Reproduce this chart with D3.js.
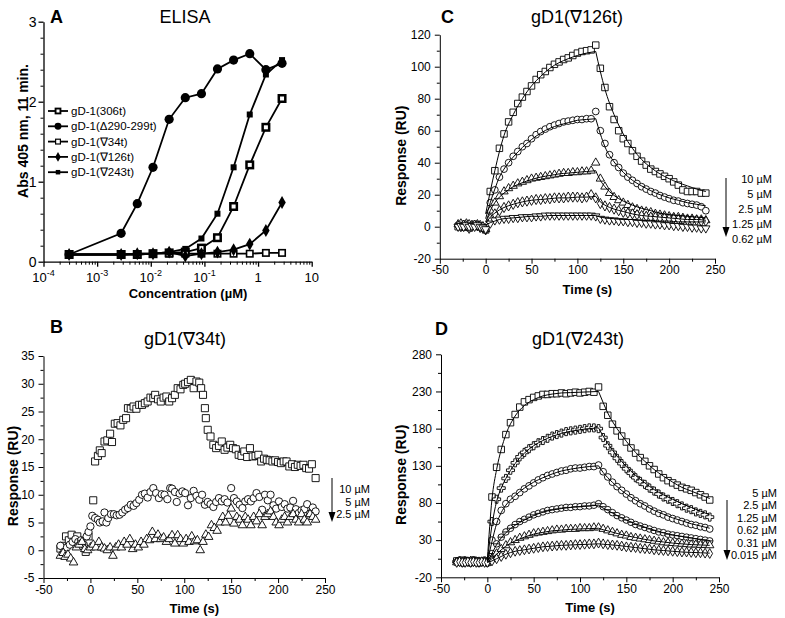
<!DOCTYPE html>
<html>
<head>
<meta charset="utf-8">
<script src="https://cdn.jsdelivr.net/npm/d3@7"></script>
<style>
body { margin: 0; background: #fff; }
svg { font-family: "Liberation Sans", Arial, Helvetica, sans-serif; }
</style>
</head>
<body>
<div id="chart"></div>
<script>
// ---------------- data: panel A (ELISA) ----------------
var elisaConc = [0.0003, 0.0028, 0.0056, 0.011, 0.022, 0.044, 0.088, 0.175, 0.35, 0.7, 1.4, 2.8];
var elisa306 = [0.09, 0.09, 0.09, 0.1, 0.11, 0.12, 0.17, 0.3, 0.69, 1.21, 1.68, 2.04];
var elisaD290 = [0.09, 0.355, 0.725, 1.18, 1.78, 2.05, 2.1, 2.41, 2.52, 2.6, 2.4, 2.48];
var elisa34 = [0.09, 0.09, 0.09, 0.1, 0.1, 0.1, 0.1, 0.1, 0.1, 0.1, 0.11, 0.11];
var elisa126 = [0.09, 0.09, 0.1, 0.1, 0.12, 0.07, 0.1, 0.12, 0.15, 0.22, 0.39, 0.74];
var elisa243 = [0.09, 0.09, 0.1, 0.1, 0.12, 0.16, 0.29, 0.6, 1.18, 1.84, 2.34, 2.52];
var elisaNames = ["gD-1(306t)", "gD-1(\u0394290-299t)", "gD-1(\u220734t)", "gD-1(\u2207126t)", "gD-1(\u2207243t)"];
var decA = [1e-4, 1e-3, 1e-2, 1e-1, 1, 10];
var decABase = ["10", "10", "10", "10", "1", "10"];
var decAExp = ["-4", "-3", "-2", "-1", "", ""];
var ticksAy = [0, 1, 2, 3];

// ---------------- data: panel B gD1(V34t), [time, RU] ----------------
var b10 = [[-32,0.3],[-29,0.8],[-26,2.5],[-23,1.8],[-20,2.8],[-17,1.5],[-14,2.5],[-11,1],[-8,0.8],[-5,-0.3],[-2,2.5],[3,9],[5,16],[8,17],[10,18],[12,17.5],[15,19.6],[18,19.8],[21,21],[23,19.5],[26,22.8],[29,22.9],[32,22.5],[35,23.5],[38,23.8],[40,25.6],[43,25.5],[46,25.9],[49,25.5],[52,26.2],[55,26.2],[58,26.5],[61,26.8],[64,27.5],[67,27.4],[69,28],[72,27.2],[75,26.8],[78,27.5],[81,27.7],[84,26.8],[87,27.4],[90,28],[93,29.2],[96,29],[99,29.8],[101,30],[104,30.3],[107,30.7],[110,29.2],[113,30.4],[116,30.2],[118,29.2],[120,28],[122,25.6],[123,23.8],[125,21.7],[128,20.5],[131,19],[134,18.4],[137,18.8],[140,19.6],[143,18.1],[146,18.5],[149,19],[152,18.4],[155,18.2],[158,17.2],[161,17],[164,17.8],[167,16.8],[170,18.4],[173,16.9],[176,17],[179,17.2],[182,16],[185,16.5],[188,16.3],[191,16.2],[194,16],[197,16.2],[200,15.9],[203,15.7],[206,16],[209,16],[212,15.1],[215,15.5],[218,15],[221,15.4],[224,15.2],[227,15.4],[230,14.8],[233,14.7],[236,15.5],[240,13]];
var b5 = [[-32,0.8],[-28,-0.3],[-25,0.5],[-22,1],[-19,1.5],[-16,2],[-13,1.5],[-10,1.8],[-7,1],[-4,2.5],[-2,3.3],[0,4.3],[2,6.2],[5,5.8],[8,5.5],[10,5],[13,5.2],[15,6.8],[17,5],[19,5.8],[22,6.5],[25,6.5],[28,6.3],[31,6.4],[34,6.8],[37,7.3],[40,7.6],[43,8.2],[46,8],[49,8.5],[52,9.1],[55,10],[58,10.2],[61,9.5],[64,10.5],[67,11.2],[70,10.3],[73,9.4],[76,10.1],[79,10],[82,9.2],[85,11.2],[87,11.1],[90,10.5],[92,8.7],[95,10.2],[98,10.6],[101,10.3],[104,8.1],[107,9.4],[110,10.7],[113,9.8],[116,9.1],[119,10],[122,8.2],[125,8.7],[128,8.3],[131,7.8],[134,8.7],[137,9.4],[140,8.8],[143,9.2],[146,8.6],[150,11.2],[153,9.4],[156,8.8],[159,8.2],[162,7.6],[165,8.8],[168,9.2],[171,8.8],[174,9.4],[177,10.3],[180,9.6],[183,7.3],[186,10],[189,9],[192,10],[195,8.1],[198,7.5],[201,8.8],[204,7.8],[207,8.3],[210,7.5],[213,7.7],[216,8.9],[219,7.4],[222,6.7],[225,7.2],[228,7.4],[231,8.3],[234,6.6],[237,7.7],[240,7]];
var b25 = [[-32,-1],[-29,-0.5],[-27,-1.2],[-24,-0.8],[-21,-1.5],[-18,-2.2],[-15,0.5],[-12,1],[-9,1.5],[-6,0.2],[-3,0],[0,0.5],[3,1],[6,0.5],[9,1.5],[12,0.5],[15,0.3],[18,0],[21,0.5],[24,-1],[27,0.5],[30,1],[33,0.5],[36,1.5],[39,1],[42,2],[45,0.2],[48,1],[51,0.5],[54,1.5],[57,1],[60,2],[63,1.8],[66,3.3],[69,2],[72,2.8],[75,2],[78,2.3],[81,1.5],[84,2],[87,2.7],[90,1.2],[93,2.7],[96,2],[99,1.2],[102,2],[105,1.5],[108,2.5],[111,1.6],[114,1.8],[117,0],[120,1.5],[123,2.8],[126,2.4],[129,4.5],[132,4],[135,3.5],[138,5],[141,6],[144,5],[147,6.2],[150,7.5],[153,4.8],[156,6],[159,5.5],[162,4.5],[165,6],[168,5.5],[171,4.5],[174,6],[177,5.2],[180,6.5],[183,4.5],[186,6],[189,6.5],[192,7],[195,6],[198,5],[201,4.5],[204,5.5],[207,6],[210,5],[213,6],[216,6.5],[219,5.5],[222,5],[225,6.5],[228,5.5],[231,5],[234,6.5],[237,6],[240,5.5]];
var bLegend = ["10 \u00b5M", "5 \u00b5M", "2.5 \u00b5M"];
var ticksBy = [-5, 0, 5, 10, 15, 20, 25, 30, 35];

// ---------------- data: panel C gD1(V126t) ----------------
var timesC = [-30,-27,-24,-21,-18,-15,-12,-9,-6,-3,0,5,10,15,20,25,30,35,40,45,50,55,60,65,70,75,80,85,90,95,100,105,110,115,120,125,130,135,140,145,150,155,160,165,170,175,180,185,190,195,200,205,210,215,220,225,230,235,240];
var c10 = [0,1,1.5,1,0.5,1,1.5,1,0,-0.5,-2, 22,35,49,58,65.5,71.5,77,81,84.5,88,92,95,97,99.5,101.5,103,104.5,105.5,107,108.5,109.5,110,110.5,113.5, 99,87,75,67,60,55,52,47.5,44,41,38.5,36,34.5,33,31.5,30,28,26,23,22,22,22,21,21];
var c5 = [1,0.5,-0.5,0,-1,0,0.5,1,0,-1,-2, 15,23,31,36,40,44,47,50,52,55,57.5,59.5,61,62.5,63.5,64.5,65.5,66,66.5,67,67,67.5,67.5,72, 60,52,45,40,37,33.5,31,29,27,25,23.5,22,21,19.5,18.5,17.5,16.5,16,15,14.5,14,13.5,12.5,10];
var c25 = [1.5,2,1,2,1.5,1,0.5,1.5,1,0,-1.5, 10,15,19,22,24,25.5,27,28,29,30,30.5,31,31.5,32,32.5,33,33.5,33.5,34,34,34.5,34.5,35,40, 30,25,21,18.5,16.5,15,13.5,12,11,10,9.5,9,8,7.5,7,6.5,6,6,5.5,5,5,4.5,4.5,4];
var c125 = [0.5,0,1,0.5,-1,0,1,0.5,-0.5,0,-2, 5,8,10,12,13,14,15,15.5,16,16.5,17,17,17.5,17.5,18,18,18,18.5,18.5,18.5,18,18.5,20,18, 14.5,13,12,11,10,9,8.5,8,7.5,7,6.5,6,6,5.5,5.5,5,5,4.5,4.5,4,4,4,3.5,3.5];
var c062 = [0,0.5,0,1,0,0.5,0,1,0,-0.5,-1.5, 2,4,4.5,5,5,5.5,5.5,6,6,6,6.5,6.5,7,7,7,7,7,7,7,7,7,7,7,6.5, 5,4.5,4,4,3.5,3.5,3,3,2.5,2.5,2,2,1.5,1.5,1,1,0.5,0.5,0,0,-0.5,-0.5,-1,-1];
var fitTimes = [0,5,10,15,20,30,40,50,60,70,80,90,100,110,120,125,130,140,150,160,170,180,190,200,210,220,230,240];
var fitC10 = [8,22,35,47,57,70,80,88,94,99,102.5,105,107,108.5,109.5, 97,86,70,58,49,42,37,33,30,27.5,25.5,23.5,22];
var fitC5 = [5,15,23.5,31,36,43.5,49.5,54.5,58.5,61.5,63.5,65,66.5,67,67.5, 58,50,40.5,34,29,25.5,22.5,20,18,16.5,15,14,13];
var fitC25 = [3,10,15,18.5,21,25,27.5,29.5,31,32,33,33.5,34,34.5,35, 29,25,19.5,16,13.5,11.5,10,8.5,7.5,7,6.5,6,5.5];
var fitC125 = [2,6,8.5,10.5,12,14,15.5,16.5,17,17.5,18,18,18.5,18.5,19, 15.5,13.5,11,9.5,8,7,6.5,6,5.5,5,4.5,4.5,4];
var fitC062 = [1,2.5,3.5,4.5,5,5.5,6,6.5,6.5,7,7,7,7,7,7, 6,5.5,5,4.5,4.5,4,4,3.5,3.5,3,3,3,3];
var cLegend = ["10 \u00b5M", "5 \u00b5M", "2.5 \u00b5M", "1.25 \u00b5M", "0.62 \u00b5M"];
var ticksCy = [-20, 0, 20, 40, 60, 80, 100, 120];

// ---------------- data: panel D gD1(V243t) ----------------
var timesD = [-33,-30,-27,-24,-21,-18,-15,-12,-9,-6,-3,0,5,10,15,20,25,30,35,40,45,50,55,60,65,70,75,80,85,90,95,100,105,110,115,120,125,130,135,140,145,150,155,160,165,170,175,180,185,190,195,200,205,210,215,220,225,230,235,240];
var d5 = [2,1,3,0,2,1,3,2,0,1,2,0, 88,128,152,172,188,199,209,216,219,222,224,226,226,227,227,228,227,228,229,228,229,230,229,236, 210,198,186,177,170,162,154,147,141,136,130,125,119,114,110,107,104,101,99,97,94,91,88,84];
var d25 = [1,2,0,2,1,0,2,1,0,1,2,0, 55,85,100,113,124,134,142,148,153,157,161,164,167,170,172,174,176,177,178,179,180,181,181,180, 168,157,148,140,133,126,120,114,109,105,100,96,92,88,85,82,79,76,73,71,68,66,64,61];
var d125 = [0,1,2,0,1,2,0,1,0,1,0,0, 30,55,70,79,85,89,94,99,103,107,111,114,117,119,121,123,124,126,127,127,128,129,129,131, 122,115,108,102,97,92,87,83,79,76,72,69,66,64,61,59,57,55,53,51,50,48,47,45];
var d062 = [0,1,0,2,1,0,1,2,0,1,0,0, 12,25,34,41,46,51,55,58,61,64,66,68,70,71,72,73,74,74,75,75,76,76,77,79, 75,71,67,63,60,57,54,51,49,47,45,43,41,40,38,37,36,35,34,33,32,31,30,29];
var d031 = [0,1,0,1,0,2,1,0,1,0,1,0, 5,12,18,23,27,30,33,35,37,39,40,41,42,43,44,44,45,45,45,46,46,46,47,47, 45,43,41,39,37,36,34,33,32,31,30,29,28,27,26.5,26,25.5,25,24.5,24,24,23.5,23.5,23];
var d0015 = [0,1,0,0,1,0,1,0,0,1,0,0, 2,5,8,11,13,15,16,17,18,19,20,21,21.5,22,22.5,23,23,23.5,24,24,24.5,25,25,26, 25,24,23.5,23,22,21,20.5,20,19,18.5,18,17,16.5,16,15.5,15,14.5,14,14,13.5,13,13,12.5,12];
var fitD5 = [3,85,125,152,172,197,211,219,224,226.5,228,228.5,229,229.5,230, 215,201,180,163,148,136,125,116,108,101,96,91,86];
var fitD25 = [2,50,82,100,113,133,147,157,164,169.5,173.5,176.5,178.5,180,181, 170,160,143,129,117,107,98,91,85,79,74,69,64];
var fitD125 = [1,28,52,67,77,90,100,108,114,119,123,125.5,127.5,129,130, 121,114,102,92,84,77,70,65,60,56,52,49,46];
var fitD062 = [1,12,24,33,40,50,57,63,67.5,70.5,72.5,74,75,76,77, 73,70,63,57,52,47.5,43.5,40,37,35,33,31,29.5];
var fitD031 = [0,5,11,17,22,29,34,38,40.5,42.5,43.5,44.5,45,45.5,46, 44,42.5,39,36,33.5,31,29,27.5,26,25,24,23.5,23];
var fitD0015 = [0,2,5,8,11,15,17,19,21,22,23,23.5,24,24.5,25, 24.5,24,23,21.5,20,18.5,17,16,15,14,13.5,13,12.5];
var dLegend = ["5 \u00b5M", "2.5 \u00b5M", "1.25 \u00b5M", "0.62 \u00b5M", "0.31 \u00b5M", "0.015 \u00b5M"];
var ticksDy = [-20, 30, 80, 130, 180, 230, 280];

var timeTicks = [-50, 0, 50, 100, 150, 200, 250];
var timeMinor = [-25, 25, 75, 125, 175, 225];

// ---------------- drawing ----------------
var width = 785, height = 618;
var svg = d3.select("#chart").append("svg")
    .attr("width", width)
    .attr("height", height);
svg.append("rect").attr("width", width).attr("height", height).attr("fill", "#fff");

function styleAxis(a, size, sw) {
    a.attr("font-family", null).attr("font-size", size);
    a.select(".domain").attr("stroke-width", sw);
    a.selectAll(".tick line").attr("stroke-width", sw);
}

function label(g, txt, x, y, opts) {
    opts = opts || {};
    var t = g.append("text")
        .attr("x", x).attr("y", y)
        .attr("text-anchor", opts.anchor || "start")
        .attr("font-size", opts.size || 12)
        .attr("font-weight", opts.bold ? "bold" : null)
        .text(txt);
    if (opts.rotate) t.attr("x", 0).attr("y", 0).attr("transform", "translate(" + x + "," + y + ") rotate(-90)");
    return t;
}

// ===== panel A =====
var xA = d3.scaleLog().domain([1e-4, 10]).range([43.5, 311.7]);
var yA = d3.scaleLinear().domain([0, 3]).range([261.7, 21.7]);
var gA = svg.append("g");

var minorAx = [];
decA.slice(0, 5).forEach(function(d) { [2,3,4,5,6,7,8,9].forEach(function(k) { minorAx.push(d * k); }); });
var minorAy = d3.range(0, 3.01, 0.2).filter(function(v) { return Math.abs(v - Math.round(v)) > 0.01; });

var axAx = gA.append("g").attr("transform", "translate(0," + yA(0) + ")")
    .call(d3.axisBottom(xA).tickValues(decA).tickSize(5).tickSizeOuter(0).tickFormat(""));
styleAxis(axAx, 13, 1.3);
gA.append("g").attr("transform", "translate(0," + yA(0) + ")")
    .call(d3.axisBottom(xA).tickValues(minorAx).tickSize(3).tickFormat(""))
    .call(function(a) { a.select(".domain").remove(); a.selectAll("line").attr("stroke-width", 1); });
var axAy = gA.append("g").attr("transform", "translate(" + xA.range()[0] + ",0)")
    .call(d3.axisLeft(yA).tickValues(ticksAy).tickSize(5).tickSizeOuter(0).tickPadding(2).tickFormat(d3.format("d")));
styleAxis(axAy, 14, 1.3);
gA.append("g").attr("transform", "translate(" + xA.range()[0] + ",0)")
    .call(d3.axisLeft(yA).tickValues(minorAy).tickSize(3).tickFormat(""))
    .call(function(a) { a.select(".domain").remove(); });

decA.forEach(function(d, i) {
    var t = gA.append("text").attr("x", xA(d)).attr("y", 282)
        .attr("text-anchor", "middle").attr("font-size", 13).text(decABase[i]);
    if (decAExp[i]) t.append("tspan").attr("dy", -6).attr("font-size", 9).text(decAExp[i]);
});

label(gA, "A", 50, 23, {size: 18, bold: true});
label(gA, "ELISA", 185, 23, {size: 18, anchor: "middle"});
label(gA, "Concentration (\u00b5M)", 188, 298, {size: 13, bold: true, anchor: "middle"});
label(gA, "Abs 405 nm, 11 min.", 28, 131, {size: 14, bold: true, anchor: "middle", rotate: true});

function markA(g, kind) {
    if (kind === "boxsq") {
        g.append("rect").attr("x", -4.5).attr("y", -4.5).attr("width", 9).attr("height", 9).attr("fill", "#000");
        g.append("rect").attr("x", -2).attr("y", -2).attr("width", 4).attr("height", 4).attr("fill", "#fff");
    } else if (kind === "dot") {
        g.append("circle").attr("r", 4.6).attr("fill", "#000");
    } else if (kind === "opensq") {
        g.append("rect").attr("x", -3.2).attr("y", -3.2).attr("width", 6.4).attr("height", 6.4)
            .attr("fill", "#fff").attr("stroke", "#000").attr("stroke-width", 1.6);
    } else if (kind === "diam") {
        g.append("path").attr("d", d3.symbol().type(d3.symbolDiamond).size(48)).attr("fill", "#000");
    } else {
        g.append("rect").attr("x", -3).attr("y", -3).attr("width", 6).attr("height", 6).attr("fill", "#000");
    }
}

var seriesA = [
    {vals: elisa306, kind: "boxsq"},
    {vals: elisaD290, kind: "dot"},
    {vals: elisa34, kind: "opensq"},
    {vals: elisa126, kind: "diam"},
    {vals: elisa243, kind: "fsq"}
];
var lineA = d3.line().x(function(d) { return xA(d[0]); }).y(function(d) { return yA(d[1]); });
seriesA.forEach(function(s) {
    var pts = d3.zip(elisaConc, s.vals);
    gA.append("path").datum(pts).attr("d", lineA)
        .attr("fill", "none").attr("stroke", "#000").attr("stroke-width", 1.8);
    gA.append("g").selectAll("g").data(pts).enter().append("g")
        .attr("transform", function(d) { return "translate(" + xA(d[0]) + "," + yA(d[1]) + ")"; })
        .each(function() { markA(d3.select(this), s.kind); });
});

// legend A
var legA = gA.append("g");
seriesA.forEach(function(s, i) {
    var ly = 111 + i * 15.3;
    legA.append("line").attr("x1", 48).attr("x2", 68).attr("y1", ly).attr("y2", ly)
        .attr("stroke", "#000").attr("stroke-width", 1.8);
    markA(legA.append("g").attr("transform", "translate(58," + ly + ") scale(0.75)"), s.kind);
    legA.append("text").attr("x", 71).attr("y", ly + 4).attr("font-size", 11.5).text(elisaNames[i]);
});

// ===== SPR panels =====
var symbolTheta = {
    draw: function(ctx, size) {
        var r = Math.sqrt(size / Math.PI);
        ctx.moveTo(r, 0);
        ctx.arc(0, 0, r, 0, 2 * Math.PI);
        ctx.moveTo(-r, 0);
        ctx.lineTo(r, 0);
    }
};

function sprPanel(p) {
    var x = d3.scaleLinear().domain([-50, 250]).range(p.xr);
    var y = d3.scaleLinear().domain(p.yd).range(p.yr);
    var g = svg.append("g");
    var y0 = p.yr[0], x0 = p.xr[0];

    var ax = g.append("g").attr("transform", "translate(0," + y0 + ")")
        .call(d3.axisBottom(x).tickValues(timeTicks).tickSize(5).tickSizeOuter(0).tickPadding(2)
            .tickFormat(function(d) { return String(d); }));
    styleAxis(ax, 12, 1);
    g.append("g").attr("transform", "translate(0," + y0 + ")")
        .call(d3.axisBottom(x).tickValues(timeMinor).tickSize(3).tickFormat(""))
        .call(function(a) { a.select(".domain").remove(); });
    var ay = g.append("g").attr("transform", "translate(" + x0 + ",0)")
        .call(d3.axisLeft(y).tickValues(p.yTicks).tickSize(5).tickSizeOuter(0).tickPadding(4)
            .tickFormat(function(d) { return String(d); }));
    styleAxis(ay, 12, 1);
    g.append("g").attr("transform", "translate(" + x0 + ",0)")
        .call(d3.axisLeft(y).tickValues(p.yMinor).tickSize(3).tickFormat(""))
        .call(function(a) { a.select(".domain").remove(); });

    // data points
    p.series.forEach(function(s) {
        g.append("g").selectAll("path").data(s.pts).enter().append("path")
            .attr("transform", function(d) {
                return "translate(" + x(d[0]) + "," + y(d[1]) + ")" + (s.flip ? " rotate(180)" : "");
            })
            .attr("d", d3.symbol().type(s.sym).size(s.size))
            .attr("fill", "#fff").attr("stroke", "#000").attr("stroke-width", 0.9);
    });

    // fitted curves, association and dissociation drawn separately
    var line = d3.line().curve(d3.curveMonotoneX)
        .x(function(d) { return x(d[0]); }).y(function(d) { return y(d[1]); });
    (p.fits || []).forEach(function(f) {
        var pts = d3.zip(fitTimes, f);
        [pts.filter(function(d) { return d[0] <= 120; }), pts.filter(function(d) { return d[0] >= 120; })]
            .forEach(function(part) {
                g.append("path").datum(part).attr("d", line)
                    .attr("fill", "none").attr("stroke", "#000").attr("stroke-width", 1);
            });
    });

    // titles
    label(g, p.letter, p.letterPos[0], p.letterPos[1], {size: 18, bold: true});
    label(g, p.title, p.titlePos[0], p.titlePos[1], {size: 18, anchor: "middle"});
    label(g, "Time (s)", (p.xr[0] + p.xr[1]) / 2 + 10, y0 + 35, {size: 13, bold: true, anchor: "middle"});
    label(g, "Response (RU)", p.yLabelX, (p.yr[0] + p.yr[1]) / 2 + 9, {size: 14, bold: true, anchor: "middle", rotate: true});

    // concentration legend with arrow
    var lg = p.legend;
    g.append("line").attr("x1", lg.ax).attr("x2", lg.ax).attr("y1", lg.top).attr("y2", lg.bottom - 8)
        .attr("stroke", "#000").attr("stroke-width", 1);
    g.append("path")
        .attr("d", "M" + (lg.ax - 3.5) + "," + (lg.bottom - 10) + "L" + (lg.ax + 3.5) + "," + (lg.bottom - 10) + "L" + lg.ax + "," + lg.bottom + "Z")
        .attr("fill", "#000");
    lg.labels.forEach(function(t, i) {
        label(g, t, lg.tx, lg.first + i * lg.step + 4, {size: 11, anchor: "end"});
    });
}

// panel B
sprPanel({
    xr: [43.5, 325], yd: [-5, 35], yr: [578, 356],
    yTicks: ticksBy, yMinor: [-2.5, 2.5, 7.5, 12.5, 17.5, 22.5, 27.5, 32.5],
    series: [
        {pts: b10, sym: d3.symbolSquare, size: 50},
        {pts: b5, sym: d3.symbolCircle, size: 42},
        {pts: b25, sym: d3.symbolTriangle, size: 32}
    ],
    letter: "B", letterPos: [50, 333],
    title: "gD1(\u220734t)", titlePos: [185, 345],
    yLabelX: 18,
    legend: {ax: 332, top: 478, bottom: 522, tx: 370, first: 489, step: 12.5, labels: bLegend}
});

// panel C
sprPanel({
    xr: [439.8, 715], yd: [-20, 120], yr: [258.7, 34.7],
    yTicks: ticksCy, yMinor: [-10, 10, 30, 50, 70, 90, 110],
    series: [
        {pts: d3.zip(timesC, c10), sym: d3.symbolSquare, size: 42},
        {pts: d3.zip(timesC, c5), sym: d3.symbolCircle, size: 36},
        {pts: d3.zip(timesC, c25), sym: d3.symbolTriangle, size: 30},
        {pts: d3.zip(timesC, c125), sym: d3.symbolDiamond, size: 30},
        {pts: d3.zip(timesC, c062), sym: d3.symbolTriangle, size: 30, flip: true}
    ],
    fits: [fitC10, fitC5, fitC25, fitC125, fitC062],
    letter: "C", letterPos: [441, 23],
    title: "gD1(\u2207126t)", titlePos: [577, 23],
    yLabelX: 406,
    legend: {ax: 726, top: 178, bottom: 237, tx: 772, first: 179, step: 15, labels: cLegend}
});

// panel D
sprPanel({
    xr: [441, 719], yd: [-20, 280], yr: [577.3, 354.3],
    yTicks: ticksDy, yMinor: [5, 55, 105, 155, 205, 255],
    series: [
        {pts: d3.zip(timesD, d5), sym: d3.symbolSquare, size: 42},
        {pts: d3.zip(timesD, d25), sym: d3.symbolCross, size: 36},
        {pts: d3.zip(timesD, d125), sym: d3.symbolCircle, size: 36},
        {pts: d3.zip(timesD, d062), sym: symbolTheta, size: 34},
        {pts: d3.zip(timesD, d031), sym: d3.symbolTriangle, size: 30},
        {pts: d3.zip(timesD, d0015), sym: d3.symbolDiamond, size: 28}
    ],
    fits: [fitD5, fitD25, fitD125, fitD062, fitD031, fitD0015],
    letter: "D", letterPos: [435, 335],
    title: "gD1(\u2207243t)", titlePos: [578, 345],
    yLabelX: 406,
    legend: {ax: 727, top: 500, bottom: 560, tx: 777, first: 493, step: 12.4, labels: dLegend}
});
</script>
</body>
</html>
